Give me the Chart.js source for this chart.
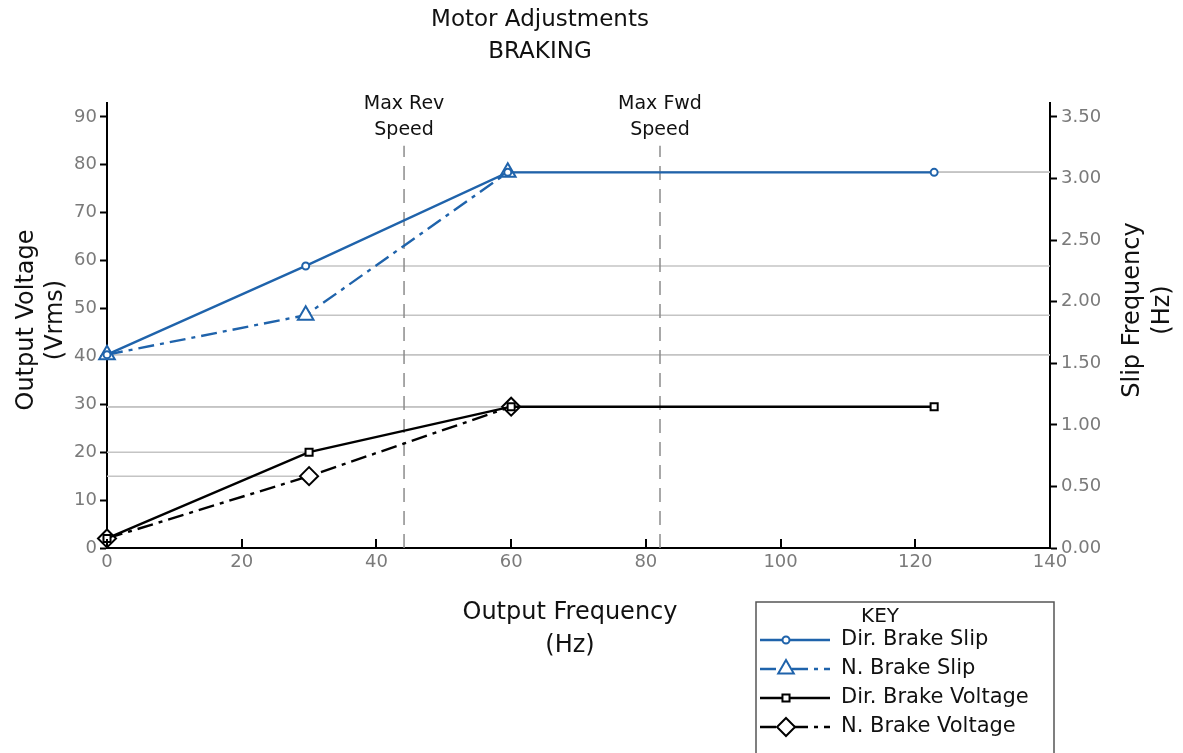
<!DOCTYPE html>
<html>
<head>
<meta charset="utf-8">
<script src="https://cdn.jsdelivr.net/npm/chart.js@4.4.1/dist/chart.umd.min.js"></script>
<style>
  html, body { margin: 0; padding: 0; background: #fff; }
</style>
</head>
<body>
<canvas id="chart_motor_braking" width="1183" height="753"></canvas>
<script>
// values
const slipFreq = [0, 29.5, 59.5, 122.8];
const voltFreq = [0, 30, 60, 122.8];
const dirBrakeSlip = [1.57, 2.29, 3.05, 3.05];
const nBrakeSlip = [1.57, 1.89, 3.05];
const dirBrakeVoltage = [2, 20, 29.5, 29.5];
const nBrakeVoltage = [2, 15, 29.5];
const xTicks = [0, 20, 40, 60, 80, 100, 120, 140];
const speedLabels = [['Max Rev', 'Speed'], ['Max Fwd', 'Speed']];
const speedFreq = [44.1, 82.1];
const speedTop = 84;

const BLUE = '#1f63ab';
const FONT = "'DejaVu Sans', sans-serif";
const DASH_DOT = [16, 6, 4, 6];

const pts = (xs, ys) => ys.map((y, i) => ({ x: xs[i], y: y }));

let series = [
  { label: 'Dir. Brake Slip', data: pts(slipFreq, dirBrakeSlip), yAxisID: 'y1',
    borderColor: BLUE, borderDash: [], pointStyle: 'circle', pointRadius: 3.5 },
  { label: 'N. Brake Slip', data: pts(slipFreq, nBrakeSlip), yAxisID: 'y1',
    borderColor: BLUE, borderDash: DASH_DOT, pointStyle: 'triangle', pointRadius: 9 },
  { label: 'Dir. Brake Voltage', data: pts(voltFreq, dirBrakeVoltage), yAxisID: 'y',
    borderColor: '#000', borderDash: [], pointStyle: 'rect', pointRadius: 5 },
  { label: 'N. Brake Voltage', data: pts(voltFreq, nBrakeVoltage), yAxisID: 'y',
    borderColor: '#000', borderDash: DASH_DOT, pointStyle: 'rectRot', pointRadius: 9 }
].map(s => Object.assign(s, {
  borderWidth: 2.4,
  pointBorderColor: s.borderColor,
  pointBackgroundColor: '#fff',
  pointBorderWidth: 2,
  pointHoverRadius: s.pointRadius,
  clip: false,
  order: 0,
  isSeries: true
}));

// gray guide lines: slip points run to the right axis, voltage points to the left axis
let guides = [];
[dirBrakeSlip, nBrakeSlip].forEach(arr => arr.forEach((v, i) => {
  guides.push({ data: [{ x: slipFreq[i], y: v }, { x: 140, y: v }], yAxisID: 'y1' });
}));
[dirBrakeVoltage, nBrakeVoltage].forEach(arr => arr.forEach((v, i) => {
  guides.push({ data: [{ x: 0, y: v }, { x: voltFreq[i], y: v }], yAxisID: 'y' });
}));
guides = guides.map(g => Object.assign(g, {
  label: '', borderColor: '#c4c4c4', borderWidth: 1.5, pointRadius: 0, order: 2
}));

let speedLines = speedFreq.map(f => ({
  label: '', data: [{ x: f, y: 0 }, { x: f, y: speedTop }], yAxisID: 'y',
  borderColor: '#8c8c8c', borderWidth: 1.5, borderDash: [14, 9], pointRadius: 0, order: 1
}));

function marker(ctx, style, r, x, y) {
  ctx.beginPath();
  if (style === 'circle') {
    ctx.arc(x, y, r, 0, Math.PI * 2);
  } else if (style === 'triangle') {
    ctx.moveTo(x, y - r);
    ctx.lineTo(x + r * 0.866, y + r * 0.5);
    ctx.lineTo(x - r * 0.866, y + r * 0.5);
    ctx.closePath();
  } else if (style === 'rect') {
    let s = r * Math.SQRT1_2;
    ctx.rect(x - s, y - s, 2 * s, 2 * s);
  } else {
    ctx.moveTo(x, y - r); ctx.lineTo(x + r, y); ctx.lineTo(x, y + r); ctx.lineTo(x - r, y);
    ctx.closePath();
  }
  ctx.fill();
  ctx.stroke();
}

const decorations = {
  id: 'decorations',
  afterDraw(chart) {
    let ctx = chart.ctx, xs = chart.scales.x, ys = chart.scales.y;
    ctx.save();

    // inward ticks on the frequency axis
    ctx.strokeStyle = '#000';
    ctx.lineWidth = 2;
    xTicks.forEach(t => {
      let px = Math.round(xs.getPixelForValue(t));
      ctx.beginPath();
      ctx.moveTo(px, ys.bottom);
      ctx.lineTo(px, ys.bottom - 9);
      ctx.stroke();
    });

    ctx.fillStyle = '#111';
    ctx.textAlign = 'center';
    ctx.textBaseline = 'middle';

    // title
    ctx.font = '23px ' + FONT;
    ctx.fillText('Motor Adjustments', 540, 20);
    ctx.fillText('BRAKING', 540, 52);

    // speed labels
    ctx.font = '19px ' + FONT;
    speedFreq.forEach((f, i) => {
      let px = xs.getPixelForValue(f);
      ctx.fillText(speedLabels[i][0], px, 104);
      ctx.fillText(speedLabels[i][1], px, 130);
    });

    // axis titles
    ctx.font = '24px ' + FONT;
    ctx.fillText('Output Frequency', 570, 613);
    ctx.fillText('(Hz)', 570, 646);

    ctx.save();
    ctx.translate(27, 320);
    ctx.rotate(-Math.PI / 2);
    ctx.fillText('Output Voltage', 0, 0);
    ctx.fillText('(Vrms)', 0, 29);
    ctx.restore();

    ctx.save();
    ctx.translate(1133, 310);
    ctx.rotate(-Math.PI / 2);
    ctx.fillText('Slip Frequency', 0, 0);
    ctx.fillText('(Hz)', 0, 30);
    ctx.restore();

    // key box
    ctx.strokeStyle = '#555';
    ctx.lineWidth = 1.5;
    ctx.strokeRect(756, 602, 298, 170);
    ctx.font = '20px ' + FONT;
    ctx.fillText('KEY', 880, 617);

    let rows = [640, 669, 698, 727];
    ctx.font = '21px ' + FONT;
    chart.data.datasets.filter(d => d.isSeries).forEach((d, i) => {
      let y = rows[i];
      ctx.strokeStyle = d.borderColor;
      ctx.lineWidth = 2.4;
      ctx.setLineDash(d.borderDash);
      ctx.beginPath();
      ctx.moveTo(760, y);
      ctx.lineTo(830, y);
      ctx.stroke();
      ctx.setLineDash([]);
      ctx.lineWidth = 2;
      ctx.fillStyle = '#fff';
      marker(ctx, d.pointStyle, d.pointRadius, 786, y);
      ctx.fillStyle = '#111';
      ctx.textAlign = 'left';
      ctx.fillText(d.label, 841, y);
    });

    ctx.restore();
  }
};

const axisLine = { display: true, color: '#000', width: 2 };
const tickFont = { family: FONT, size: 18 };

let options = {
  responsive: false,
  animation: false,
  layout: { padding: { top: 103 } },
  plugins: {
    legend: { display: false },
    title: { display: false },
    tooltip: { enabled: false }
  },
  scales: {
    x: {
      type: 'linear',
      min: 0,
      max: 140,
      afterBuildTicks: s => { s.ticks = xTicks.map(v => ({ value: v })); },
      afterFit: s => { s.height = 205; },
      border: axisLine,
      grid: { display: false, drawTicks: false },
      ticks: { color: '#7a7a7a', font: tickFont, padding: 4, maxRotation: 0 }
    },
    y: {
      position: 'left',
      min: 0,
      max: 92.9,
      afterFit: s => { s.width = 107; },
      border: axisLine,
      grid: { drawOnChartArea: false, tickLength: 7, tickColor: '#000', tickWidth: 2 },
      ticks: { stepSize: 10, includeBounds: false, color: '#7a7a7a', font: tickFont, padding: 3 }
    },
    y1: {
      position: 'right',
      min: 0,
      max: 3.613,
      afterFit: s => { s.width = 133; },
      border: axisLine,
      grid: { drawOnChartArea: false, tickLength: 7, tickColor: '#000', tickWidth: 2 },
      ticks: { stepSize: 0.5, includeBounds: false, color: '#7a7a7a', font: tickFont, padding: 4,
               callback: v => v.toFixed(2) }
    }
  }
};

new Chart('chart_motor_braking', {
  type: 'line',
  plugins: [decorations],
  data: { datasets: series.concat(speedLines, guides) },
  options
});
</script>
</body>
</html>
